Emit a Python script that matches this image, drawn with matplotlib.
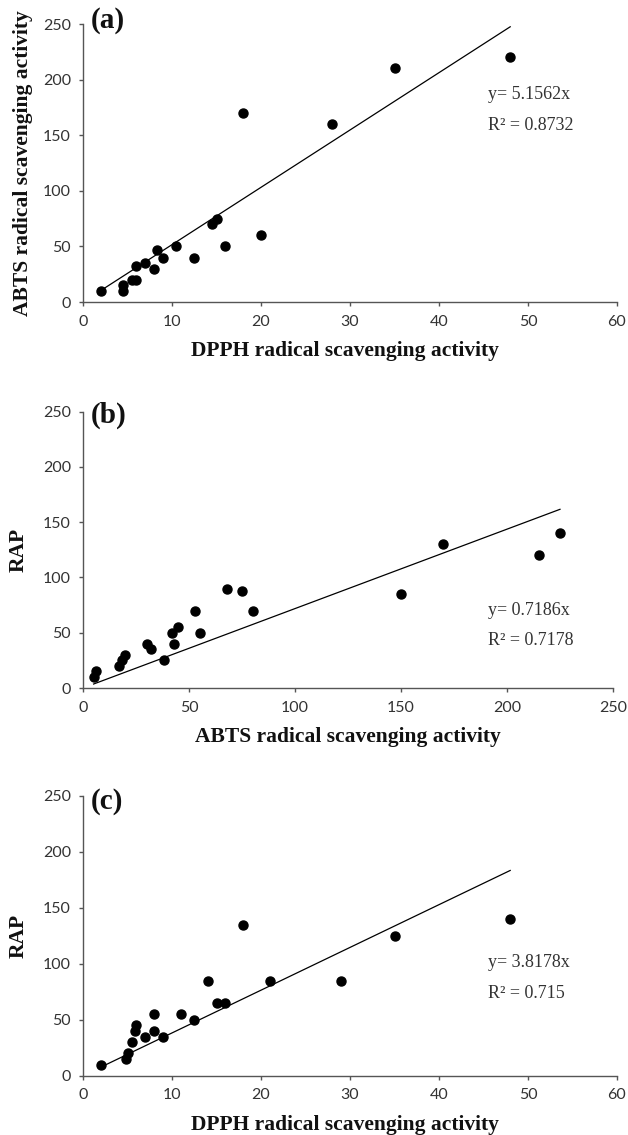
import matplotlib
matplotlib.use("Agg")
import matplotlib.pyplot as plt
import numpy as np

# Panel (a): DPPH vs ABTS
dpph_a = [2, 4.5, 4.5, 5.5, 6, 6, 7, 8, 8.3, 9, 10.5, 12.5, 14.5, 15, 16, 18, 20, 28, 35, 48]
abts_a = [10, 15, 10, 20, 20, 32, 35, 30, 47, 40, 50, 40, 70, 75, 50, 170, 60, 160, 210, 220]
slope_a = 5.1562
r2_a = "0.8732"

# Panel (b): ABTS vs RAP
abts_b = [5, 6, 17, 18.5, 20, 30, 32, 38, 42, 43, 45, 53, 55, 68, 75, 80, 150, 170, 215, 225]
rap_b = [10, 15, 20, 25, 30, 40, 35, 25, 50, 40, 55, 70, 50, 90, 88, 70, 85, 130, 120, 140]
slope_b = 0.7186
r2_b = "0.7178"

# Panel (c): DPPH vs RAP
dpph_c = [2, 4.8, 5, 5.5, 5.8, 6, 7, 8, 8, 9, 11, 12.5, 14, 15, 16, 18, 21, 29, 35, 48]
rap_c = [10, 15, 20, 30, 40, 45, 35, 40, 55, 35, 55, 50, 85, 65, 65, 135, 85, 85, 125, 140]
slope_c = 3.8178
r2_c = "0.715"

labels = ["(a)", "(b)", "(c)"]
xlabels = ["DPPH radical scavenging activity", "ABTS radical scavenging activity",
           "DPPH radical scavenging activity"]
ylabels = ["ABTS radical scavenging activity", "RAP", "RAP"]
xlims = [(0, 60), (0, 250), (0, 60)]
xticks = [[0, 10, 20, 30, 40, 50, 60], [0, 50, 100, 150, 200, 250], [0, 10, 20, 30, 40, 50, 60]]
yticks = [0, 50, 100, 150, 200, 250]

fig = plt.figure(figsize=(6.28, 11.35), dpi=100)
W, H = 628, 1135
boxes = [(83, 617, 24, 302), (83, 613, 411.7, 688), (83, 617, 795.7, 1075.7)]

panels = [(dpph_a, abts_a, slope_a, r2_a), (abts_b, rap_b, slope_b, r2_b), (dpph_c, rap_c, slope_c, r2_c)]
eq_pos = [(45.5, 186.5, 158.7), (191, 70.5, 43), (45.5, 101.5, 73)]
lab_y = [1.014, 0.988, 0.979]
xlab_x = [0.49, 0.5, 0.49]
ylab_px = [23, 19, 19]

tickfont = "Lato"
serif = "Liberation Serif"
spine_col = "#555555"
tick_col = "#333333"

for i, (box, (xs, ys, slope, r2)) in enumerate(zip(boxes, panels)):
    l, r, t, b = box
    w, h = r - l, b - t
    ax = fig.add_axes([l / W, 1 - b / H, w / W, h / H])
    ax.plot(xs, ys, 'o', color='black', markersize=6.5, zorder=3)
    xl = np.array([min(xs), max(xs)])
    ax.plot(xl, slope * xl, color='black', linewidth=0.9, zorder=2)
    ax.set_xlim(*xlims[i])
    ax.set_ylim(0, 250)
    ax.set_xticks(xticks[i])
    ax.set_yticks(yticks)
    for s in ['top', 'right']:
        ax.spines[s].set_visible(False)
    for s in ['left', 'bottom']:
        ax.spines[s].set_color(spine_col)
        ax.spines[s].set_linewidth(1.0)
    ax.tick_params(direction='out', length=3.2, width=1.0, color=spine_col,
                   labelcolor=tick_col, labelsize=11.5)
    ax.tick_params(axis='y', pad=5.5)
    ax.tick_params(axis='x', pad=6)
    for lab in ax.get_xticklabels() + ax.get_yticklabels():
        lab.set_fontfamily(tickfont)
    ax.set_xlabel(xlabels[i], fontfamily=serif, fontweight='bold', fontsize=15.5,
                  color='#111111', va='center')
    ax.xaxis.set_label_coords(xlab_x[i], -49 / h)
    ax.set_ylabel(ylabels[i], fontfamily=serif, fontweight='bold', fontsize=15.5,
                  color='#111111', va='center', ha='center')
    ax.yaxis.set_label_coords(-(l - ylab_px[i]) / w, 0.5)
    ax.text(0.015, lab_y[i], labels[i], transform=ax.transAxes, fontfamily=serif,
            fontweight='bold', fontsize=21, va='center', ha='left', color='#111111')
    ex, ey1, ey2 = eq_pos[i]
    ax.text(ex, ey1, f"y= {slope:.4f}x", fontfamily=serif, fontsize=13,
            va='center', ha='left', color='#333333')
    ax.text(ex, ey2, f"R\u00b2 = {r2}", fontfamily=serif, fontsize=13,
            va='center', ha='left', color='#333333')

fig.savefig("out.png", dpi=100)
